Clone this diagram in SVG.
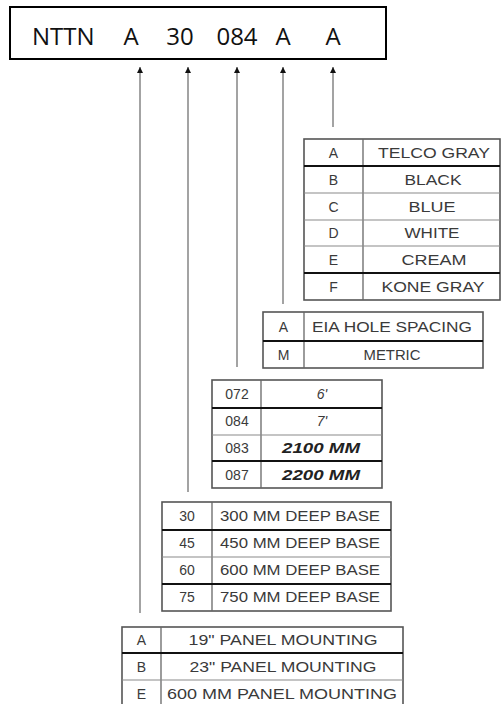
<svg xmlns="http://www.w3.org/2000/svg" width="501" height="704" viewBox="0 0 501 704">
<defs>
<style>
.hdr{font-family:"Open Sans","Liberation Sans",sans-serif;font-size:24px;fill:#111}
.t{font-family:"Liberation Sans",Arial,sans-serif;font-size:14px;fill:#3a3a3a;text-anchor:middle}
.it{font-style:italic}
.bi{font-style:italic;font-weight:bold;fill:#222}
.box{fill:#fff;stroke:#555;stroke-width:1.6}
.div{stroke:#666;stroke-width:1.3}
.thk{stroke:#111;stroke-width:2}
.thn{stroke:#8a8a8a;stroke-width:1.1}
.conn{stroke:#8c8c8c;stroke-width:1.6;fill:none}
</style>
<marker id="ah" viewBox="0 0 10 10" refX="10" refY="5" markerUnits="userSpaceOnUse" markerWidth="11" markerHeight="6" orient="auto">
<path d="M0,0 L10,5 L0,10 z" fill="#111"/>
</marker>
</defs>
<rect width="501" height="704" fill="#fff"/>

<g id="header">
<rect x="10" y="7" width="376" height="52" fill="#fff" stroke="#000" stroke-width="2"/>
<text class="hdr" x="32" y="45">NTTN</text>
<text class="hdr" x="131" y="45" text-anchor="middle">A</text>
<text class="hdr" x="180" y="45" text-anchor="middle">30</text>
<text class="hdr" x="237" y="45" text-anchor="middle">084</text>
<text class="hdr" x="283" y="45" text-anchor="middle">A</text>
<text class="hdr" x="333" y="45" text-anchor="middle">A</text>
</g>

<g id="connectors">
<line class="conn" x1="140" y1="613" x2="140" y2="67" marker-end="url(#ah)"/>
<line class="conn" x1="188" y1="492" x2="188" y2="67" marker-end="url(#ah)"/>
<line class="conn" x1="237" y1="367" x2="237" y2="67" marker-end="url(#ah)"/>
<line class="conn" x1="283" y1="304" x2="283" y2="67" marker-end="url(#ah)"/>
<line class="conn" x1="333" y1="127" x2="333" y2="67" marker-end="url(#ah)"/>
</g>

<g id="color-table">
<rect class="box" x="304" y="139" width="196" height="161"/>
<line class="div" x1="363" y1="139" x2="363" y2="300"/>
<line class="thk" x1="304" y1="166" x2="500" y2="166"/>
<line class="thn" x1="304" y1="193" x2="500" y2="193"/>
<line class="thn" x1="304" y1="220" x2="500" y2="220"/>
<line class="thn" x1="304" y1="246" x2="500" y2="246"/>
<line class="thk" x1="304" y1="273" x2="500" y2="273"/>
<text class="t" x="333.5" y="158">A</text><text class="t" x="434" y="158" textLength="112" lengthAdjust="spacingAndGlyphs">TELCO GRAY</text>
<text class="t" x="333.5" y="185">B</text><text class="t" x="433" y="185" textLength="57" lengthAdjust="spacingAndGlyphs">BLACK</text>
<text class="t" x="333.5" y="212">C</text><text class="t" x="432" y="212" textLength="47" lengthAdjust="spacingAndGlyphs">BLUE</text>
<text class="t" x="333.5" y="238">D</text><text class="t" x="432" y="238" textLength="55" lengthAdjust="spacingAndGlyphs">WHITE</text>
<text class="t" x="333.5" y="265">E</text><text class="t" x="434" y="265" textLength="65" lengthAdjust="spacingAndGlyphs">CREAM</text>
<text class="t" x="333.5" y="292">F</text><text class="t" x="433" y="292" textLength="103" lengthAdjust="spacingAndGlyphs">KONE GRAY</text>
</g>

<g id="hole-table">
<rect class="box" x="263" y="312" width="220" height="56"/>
<line class="div" x1="304" y1="312" x2="304" y2="368"/>
<line class="thk" x1="263" y1="341" x2="483" y2="341"/>
<text class="t" x="283.5" y="332">A</text><text class="t" x="392" y="332" textLength="160" lengthAdjust="spacingAndGlyphs">EIA HOLE SPACING</text>
<text class="t" x="283.5" y="360">M</text><text class="t" x="392" y="360" textLength="57" lengthAdjust="spacingAndGlyphs">METRIC</text>
</g>

<g id="height-table">
<rect class="box" x="212" y="380" width="170" height="108"/>
<line class="div" x1="261" y1="380" x2="261" y2="488"/>
<line class="thk" x1="212" y1="408" x2="382" y2="408"/>
<line class="thn" x1="212" y1="435" x2="382" y2="435"/>
<line class="thk" x1="212" y1="461" x2="382" y2="461"/>
<text class="t" x="237" y="399">072</text><text class="t it" x="322" y="399">6'</text>
<text class="t" x="237" y="426">084</text><text class="t it" x="322" y="426">7'</text>
<text class="t" x="237" y="453">083</text><text class="t bi" x="321" y="453" textLength="78" lengthAdjust="spacingAndGlyphs">2100 MM</text>
<text class="t" x="237" y="480">087</text><text class="t bi" x="321" y="480" textLength="78" lengthAdjust="spacingAndGlyphs">2200 MM</text>
</g>

<g id="depth-table">
<rect class="box" x="162" y="502" width="229" height="109"/>
<line class="div" x1="212" y1="502" x2="212" y2="611"/>
<line class="thk" x1="162" y1="530" x2="391" y2="530"/>
<line class="thn" x1="162" y1="557" x2="391" y2="557"/>
<line class="thk" x1="162" y1="584" x2="391" y2="584"/>
<text class="t" x="187" y="521">30</text><text class="t" x="300" y="521" textLength="160" lengthAdjust="spacingAndGlyphs">300 MM DEEP BASE</text>
<text class="t" x="187" y="548">45</text><text class="t" x="300" y="548" textLength="160" lengthAdjust="spacingAndGlyphs">450 MM DEEP BASE</text>
<text class="t" x="187" y="575">60</text><text class="t" x="300" y="575" textLength="160" lengthAdjust="spacingAndGlyphs">600 MM DEEP BASE</text>
<text class="t" x="187" y="602">75</text><text class="t" x="300" y="602" textLength="160" lengthAdjust="spacingAndGlyphs">750 MM DEEP BASE</text>
</g>

<g id="mounting-table">
<rect class="box" x="122" y="627" width="281" height="81"/>
<line class="div" x1="161" y1="627" x2="161" y2="708"/>
<line class="thk" x1="122" y1="653" x2="403" y2="653"/>
<line class="thn" x1="122" y1="680" x2="403" y2="680"/>
<text class="t" x="141.5" y="645">A</text><text class="t" x="283" y="645" textLength="189" lengthAdjust="spacingAndGlyphs">19" PANEL MOUNTING</text>
<text class="t" x="141.5" y="672">B</text><text class="t" x="283" y="672" textLength="187" lengthAdjust="spacingAndGlyphs">23" PANEL MOUNTING</text>
<text class="t" x="141.5" y="699">E</text><text class="t" x="282" y="699" textLength="230" lengthAdjust="spacingAndGlyphs">600 MM PANEL MOUNTING</text>
</g>
</svg>
